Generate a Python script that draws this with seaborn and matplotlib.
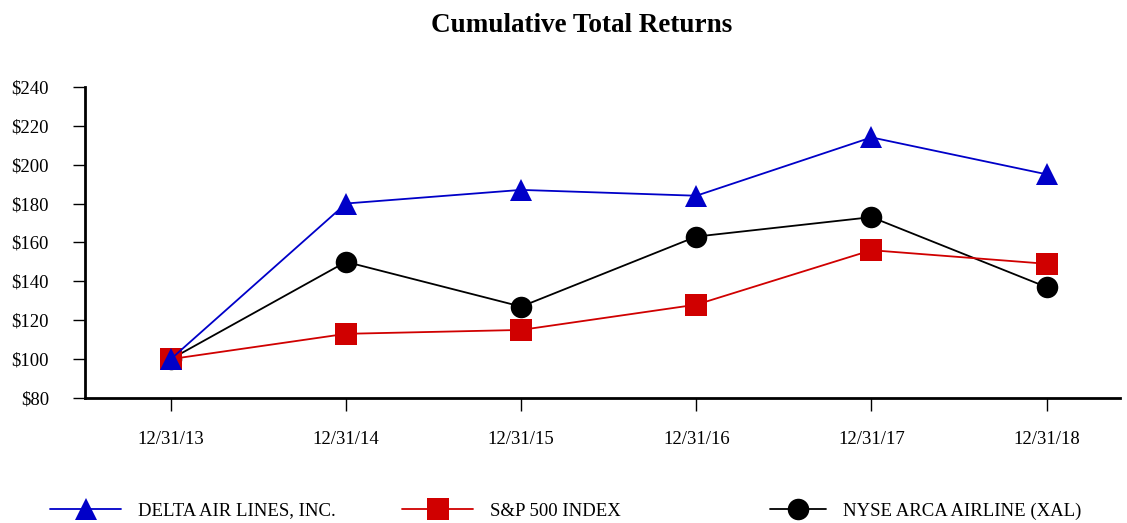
import pandas as pd
import matplotlib.pyplot as plt
import seaborn as sns

dates = ["12/31/13", "12/31/14", "12/31/15", "12/31/16", "12/31/17", "12/31/18"]
delta = [100, 180, 187, 184, 214, 195]
sp500 = [100, 113, 115, 128, 156, 149]
xal = [100, 150, 127, 163, 173, 137]

series = {
    "DELTA AIR LINES, INC.": (delta, "#0000c8", "^"),
    "S&P 500 INDEX": (sp500, "#d00000", "s"),
    "NYSE ARCA AIRLINE (XAL)": (xal, "black", "o"),
}

sns.set_style("white")
plt.rcParams["font.family"] = ["Liberation Serif", "DejaVu Serif"]
plt.rcParams["text.color"] = "black"

fig = plt.figure(figsize=(11.27, 5.23), dpi=100)
ax = fig.add_axes([0.0754, 0.239, 0.9186, 0.595])

# draw in reverse so Delta sits on top at the shared first point
for name in reversed(list(series)):
    vals, color, marker = series[name]
    df = pd.DataFrame({"x": range(len(dates)), "y": vals})
    sns.lineplot(data=df, x="x", y="y", ax=ax, color=color, marker=marker,
                 markersize=15.5, markeredgewidth=0, linewidth=1.3, label=name)

ax.set_xlim(-0.49, 5.42)
ax.set_ylim(80, 240)
ax.set_xticks(range(len(dates)))
ax.set_xticklabels(dates)
ax.set_yticks(range(80, 241, 20))
ax.set_yticklabels([f"${v}" for v in range(80, 241, 20)])
ax.set_xlabel("")
ax.set_ylabel("")
ax.tick_params(axis="both", labelsize=13.5, colors="black", direction="out",
               length=9, width=1, bottom=True, left=True)
ax.tick_params(axis="x", pad=15)
ax.tick_params(axis="y", pad=17)
for s in ["top", "right"]:
    ax.spines[s].set_visible(False)
for s in ["left", "bottom"]:
    ax.spines[s].set_color("black")
    ax.spines[s].set_linewidth(2)

fig.text(0.516, 0.952, "Cumulative Total Returns", ha="center", va="center",
         fontsize=19.5, fontweight="bold")

handles, labels = ax.get_legend_handles_labels()
ax.get_legend().remove()
# three separate one-entry legends to match the uneven spacing
legend_x = [50, 402, 770]
legend_len = [3.8, 3.8, 3.0]
for name, x0, hl in zip(series, legend_x, legend_len):
    i = labels.index(name)
    fig.legend([handles[i]], [name], loc="center left",
               bbox_to_anchor=(x0 / 1127, 1 - 511 / 523), frameon=False,
               fontsize=13.5, handlelength=hl, handletextpad=0.9,
               borderpad=0, borderaxespad=0)

fig.savefig("out.png", dpi=100)
